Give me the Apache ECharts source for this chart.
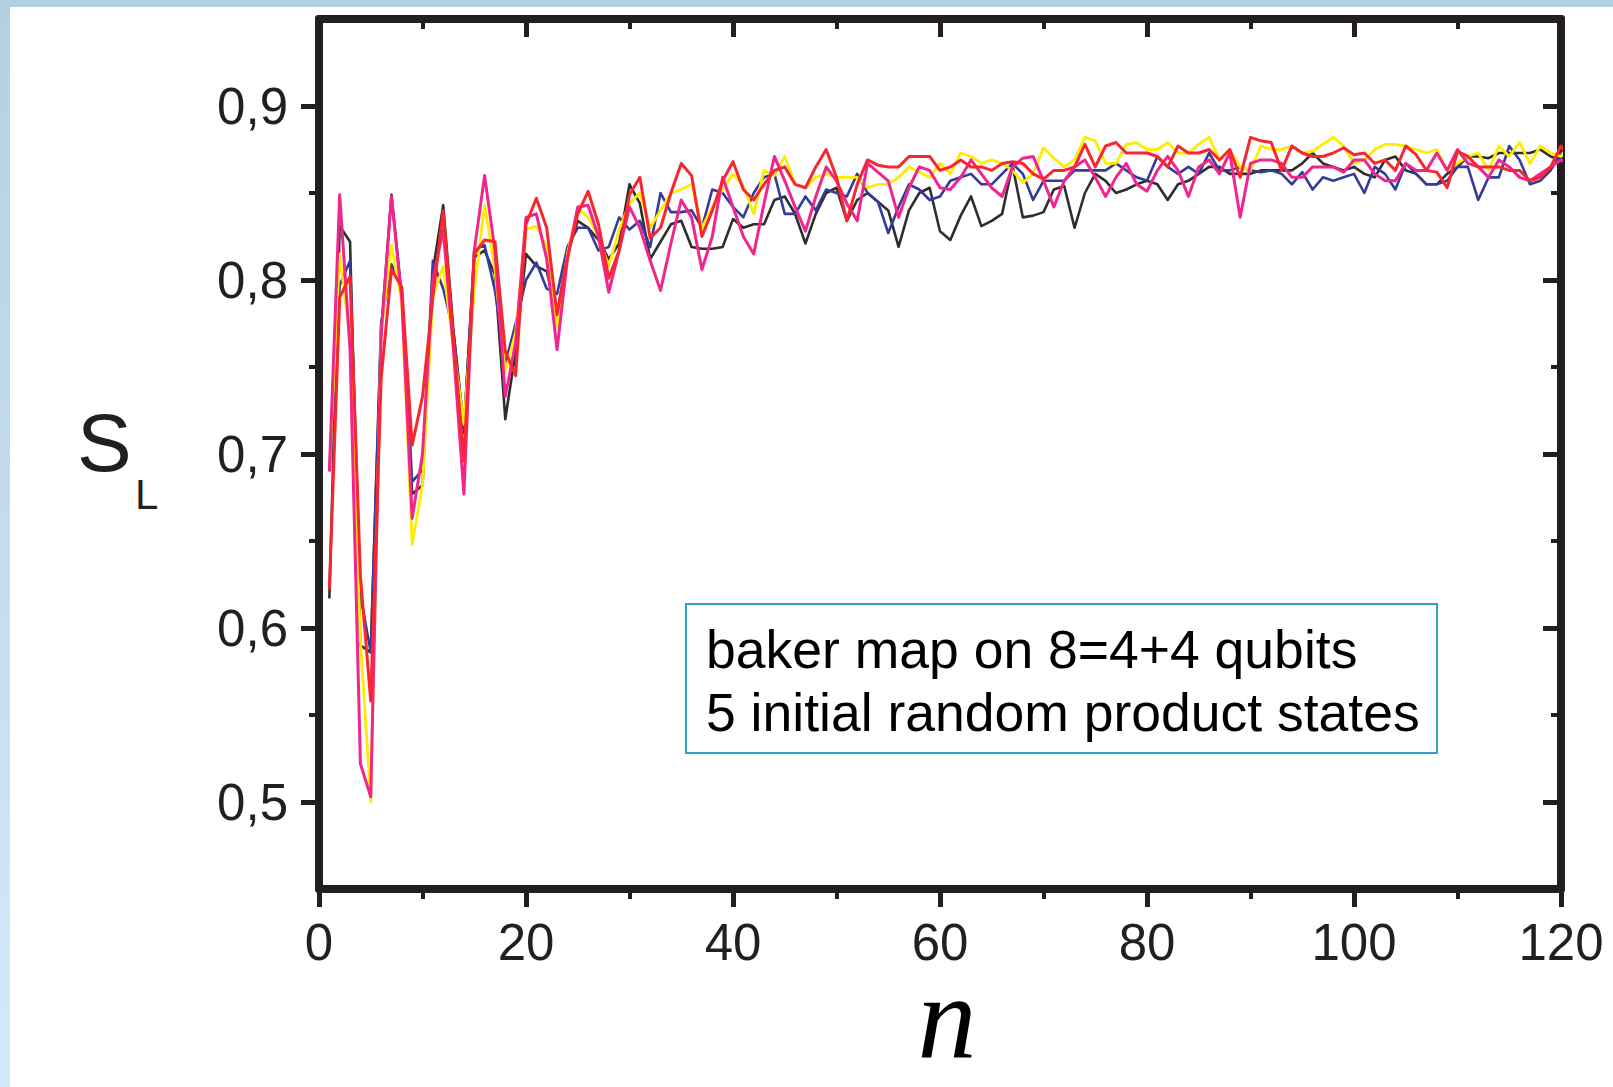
<!DOCTYPE html>
<html>
<head>
<meta charset="utf-8">
<script src="https://cdn.jsdelivr.net/npm/echarts@6/dist/echarts.min.js"></script>
<style>
html,body{margin:0;padding:0;width:1613px;height:1087px;overflow:hidden;background:#fff;}
#stripTop{position:absolute;left:0;top:0;width:1613px;height:7px;background:#b3d0e2;}
#stripLeft{position:absolute;left:0;top:0;width:10px;height:1087px;background:linear-gradient(#b3d0e2,#d3eaf8);}
#chart{position:absolute;left:0;top:0;width:1613px;height:1087px;}
</style>
</head>
<body>
<div id="stripTop"></div>
<div id="stripLeft"></div>
<div id="chart"></div>
<script>
// ---- data ----
const xTicks = [0, 20, 40, 60, 80, 100, 120];
const yTickLabels = [0.5, 0.6, 0.7, 0.8, 0.9];
const yMinorTicks = [0.55, 0.65, 0.75, 0.85];
const xTitle = 'n';
const legendLines = ['baker map on 8=4+4 qubits', '5 initial random product states'];

const black = [0.617,0.831,0.822,0.590,0.586,0.770,0.849,0.790,0.677,0.682,
0.805,0.843,0.770,0.715,0.813,0.817,0.803,0.720,0.759,0.815,
0.808,0.805,0.780,0.815,0.834,0.830,0.823,0.812,0.821,0.855,
0.844,0.812,0.822,0.832,0.834,0.819,0.818,0.818,0.819,0.835,
0.830,0.832,0.832,0.846,0.848,0.838,0.821,0.838,0.850,0.853,
0.834,0.846,0.850,0.845,0.840,0.819,0.840,0.850,0.853,0.828,
0.823,0.837,0.848,0.831,0.834,0.838,0.866,0.836,0.837,0.839,
0.852,0.854,0.830,0.850,0.861,0.857,0.850,0.852,0.855,0.857,
0.855,0.846,0.855,0.857,0.861,0.865,0.865,0.861,0.861,0.861,
0.863,0.863,0.863,0.863,0.867,0.873,0.867,0.865,0.863,0.865,
0.861,0.859,0.869,0.871,0.863,0.861,0.855,0.855,0.861,0.865,
0.871,0.871,0.870,0.873,0.873,0.873,0.873,0.875,0.871,0.869,0.859];

const blue = [0.690,0.797,0.811,0.619,0.586,0.775,0.809,0.794,0.684,0.691,
0.811,0.795,0.770,0.712,0.817,0.820,0.794,0.752,0.775,0.800,
0.810,0.795,0.792,0.819,0.830,0.830,0.817,0.819,0.836,0.829,
0.834,0.819,0.850,0.839,0.839,0.840,0.830,0.852,0.850,0.842,
0.836,0.850,0.859,0.861,0.838,0.838,0.848,0.840,0.852,0.850,
0.848,0.861,0.850,0.845,0.827,0.842,0.855,0.852,0.846,0.848,
0.857,0.859,0.861,0.855,0.855,0.861,0.867,0.861,0.846,0.857,
0.857,0.857,0.863,0.863,0.863,0.863,0.867,0.863,0.859,0.857,
0.871,0.865,0.861,0.865,0.861,0.873,0.863,0.863,0.865,0.863,
0.862,0.863,0.861,0.855,0.862,0.852,0.859,0.857,0.859,0.861,
0.850,0.865,0.861,0.852,0.867,0.861,0.855,0.855,0.857,0.865,
0.865,0.846,0.859,0.859,0.877,0.869,0.855,0.857,0.863,0.873,0.863];

const yellow = [0.690,0.815,0.765,0.593,0.500,0.770,0.820,0.787,0.648,0.682,
0.790,0.808,0.761,0.717,0.794,0.843,0.806,0.747,0.770,0.829,
0.831,0.819,0.773,0.815,0.841,0.836,0.825,0.808,0.829,0.844,
0.850,0.830,0.840,0.850,0.852,0.855,0.830,0.842,0.852,0.861,
0.854,0.838,0.863,0.860,0.871,0.855,0.853,0.859,0.861,0.859,
0.859,0.859,0.853,0.855,0.855,0.859,0.865,0.862,0.859,0.867,
0.861,0.873,0.871,0.867,0.869,0.867,0.863,0.856,0.861,0.876,
0.870,0.865,0.869,0.882,0.880,0.867,0.867,0.878,0.879,0.875,
0.875,0.879,0.873,0.873,0.878,0.882,0.869,0.875,0.865,0.863,
0.877,0.875,0.875,0.877,0.873,0.874,0.878,0.882,0.877,0.867,
0.869,0.875,0.878,0.878,0.877,0.875,0.873,0.875,0.863,0.867,
0.871,0.873,0.863,0.877,0.871,0.879,0.867,0.877,0.873,0.871,0.880];

const pink = [0.690,0.849,0.760,0.522,0.503,0.768,0.848,0.789,0.663,0.700,
0.800,0.829,0.759,0.677,0.817,0.860,0.817,0.733,0.764,0.836,
0.838,0.812,0.760,0.812,0.842,0.843,0.825,0.793,0.817,0.842,
0.830,0.811,0.794,0.821,0.846,0.836,0.806,0.825,0.859,0.842,
0.825,0.815,0.844,0.871,0.857,0.842,0.828,0.848,0.865,0.857,
0.844,0.834,0.867,0.862,0.857,0.836,0.853,0.865,0.863,0.853,
0.852,0.859,0.869,0.861,0.853,0.848,0.865,0.870,0.871,0.857,
0.842,0.857,0.865,0.869,0.859,0.848,0.859,0.867,0.855,0.851,
0.863,0.871,0.863,0.848,0.865,0.869,0.861,0.873,0.836,0.867,
0.869,0.869,0.867,0.859,0.859,0.865,0.865,0.865,0.862,0.869,
0.869,0.861,0.857,0.857,0.867,0.863,0.863,0.873,0.863,0.875,
0.867,0.865,0.859,0.869,0.865,0.859,0.857,0.861,0.865,0.869,0.867];

const red = [0.622,0.790,0.802,0.630,0.558,0.743,0.806,0.796,0.705,0.733,
0.790,0.840,0.766,0.696,0.815,0.823,0.822,0.759,0.745,0.832,
0.847,0.830,0.780,0.813,0.838,0.851,0.832,0.801,0.817,0.849,
0.859,0.824,0.830,0.850,0.867,0.860,0.825,0.840,0.857,0.868,
0.852,0.846,0.855,0.863,0.865,0.855,0.853,0.865,0.875,0.859,
0.834,0.855,0.869,0.866,0.865,0.865,0.871,0.871,0.871,0.863,
0.865,0.869,0.865,0.865,0.863,0.867,0.868,0.867,0.861,0.858,
0.863,0.863,0.865,0.878,0.865,0.877,0.879,0.873,0.873,0.873,
0.871,0.865,0.877,0.873,0.873,0.875,0.869,0.875,0.859,0.882,
0.880,0.879,0.863,0.877,0.873,0.871,0.871,0.873,0.876,0.872,
0.873,0.867,0.869,0.863,0.877,0.872,0.863,0.862,0.853,0.874,
0.871,0.865,0.865,0.865,0.863,0.863,0.857,0.859,0.865,0.877,0.869];

const seriesList = [
  {name: 'state 1', values: black,  color: '#2e2e2e', width: 2.6},
  {name: 'state 2', values: blue,   color: '#353b96', width: 2.6},
  {name: 'state 3', values: yellow, color: '#ffec00', width: 2.8},
  {name: 'state 4', values: pink,   color: '#f0268e', width: 3},
  {name: 'state 5', values: red,    color: '#f8262e', width: 3}
];

// ---- chart ----
const FRAME = '#231f20';
const tickFont = {fontFamily: '"Liberation Sans", Arial, Helvetica, sans-serif', fontSize: 51, color: FRAME};
const chart = echarts.init(document.getElementById('chart'), null, {renderer: 'svg'});

const lineStyleFrame = {color: FRAME, width: 8, cap: 'round'};

function xAxisDef(pos) {
  const bottom = pos === 'bottom';
  return {
    type: 'value', position: pos, min: 0, max: 120, interval: 20,
    axisLine: {show: true, onZero: false, lineStyle: lineStyleFrame},
    axisTick: {show: true, inside: !bottom, length: 18, lineStyle: {color: FRAME, width: 5}},
    minorTick: {show: true, splitNumber: 2, length: 10, lineStyle: {color: FRAME, width: 4}},
    splitLine: {show: false}, minorSplitLine: {show: false},
    axisLabel: bottom ? Object.assign({show: true, margin: 28}, tickFont) : {show: false}
  };
}

function yAxisDef(pos, major) {
  const left = pos === 'left';
  return {
    type: 'value', position: pos, min: 0.45, max: 0.95,
    axisLine: {show: major, onZero: false, lineStyle: lineStyleFrame},
    axisTick: {show: true, inside: !left, length: major ? 18 : 10,
      customValues: major ? yTickLabels : yMinorTicks,
      lineStyle: {color: FRAME, width: major ? 5 : 4}},
    splitLine: {show: false},
    axisLabel: (left && major) ? Object.assign({
      show: true, margin: 31, customValues: yTickLabels,
      formatter: v => v.toFixed(1).replace('.', ',')
    }, tickFont) : {show: false, customValues: major ? yTickLabels : yMinorTicks}
  };
}

const nValues = black.map((_, i) => i + 1);

chart.setOption({
  animation: false,
  backgroundColor: 'transparent',
  grid: {left: 319, right: 52, top: 19, bottom: 198, containLabel: false, outerBoundsMode: 'none'},
  xAxis: [xAxisDef('bottom'), xAxisDef('top')],
  yAxis: [yAxisDef('left', true), yAxisDef('left', false), yAxisDef('right', true), yAxisDef('right', false)],
  series: seriesList.map(s => ({
    name: s.name, type: 'line', xAxisIndex: 0, yAxisIndex: 0,
    data: s.values.map((v, i) => [nValues[i], v]),
    showSymbol: false, clip: false, smooth: false,
    lineStyle: {color: s.color, width: s.width, join: 'round'},
    itemStyle: {color: s.color}, z: 2
  })),
  graphic: [
    {type: 'text', left: 77, top: 401, z: 10,
      style: {text: 'S', font: '82px "Liberation Sans", Arial, sans-serif', fill: FRAME}},
    {type: 'text', left: 135, top: 473, z: 10,
      style: {text: 'L', font: '42px "Liberation Sans", Arial, sans-serif', fill: FRAME}},
    {type: 'text', x: 947, y: 1059, z: 10,
      style: {text: xTitle, font: 'italic 118px "Liberation Serif", "Times New Roman", serif',
        lineHeight: 84, fill: '#000', align: 'center', verticalAlign: 'bottom'}},
    {type: 'rect', z: 20, shape: {x: 686, y: 604, width: 751, height: 149},
      style: {fill: '#fff', stroke: '#2fa3cd', lineWidth: 2}},
    {type: 'text', z: 21, x: 706, y: 681,
      style: {text: legendLines.join('\n'), font: '53.5px "Liberation Sans", Arial, sans-serif',
        fill: '#000', lineHeight: 63, verticalAlign: 'middle', align: 'left'}}
  ]
});
</script>
</body>
</html>
